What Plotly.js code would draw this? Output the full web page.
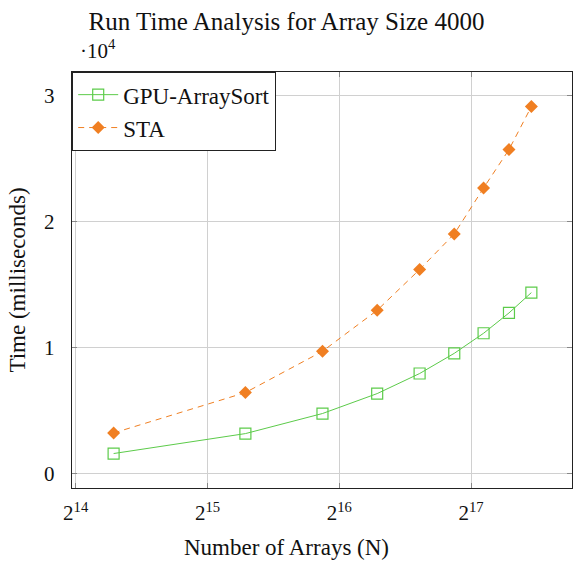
<!DOCTYPE html>
<html>
<head>
<meta charset="utf-8">
<script src="https://cdn.plot.ly/plotly-3.0.1.min.js"></script>
<style>html,body{margin:0;padding:0;background:#fff;}#chart{width:573px;height:562px;}</style>
</head>
<body>
<div id="chart"></div>
<script>
const numArrays = [20000, 40000, 60000, 80000, 100000, 120000, 140000, 160000, 180000];
const gpuArraySort = [1620, 3200, 4790, 6370, 7960, 9560, 11150, 12760, 14370];
const sta = [3250, 6450, 9720, 12970, 16200, 19020, 22660, 25700, 29110];
const xTickVals = [16384, 32768, 65536, 131072];
const xTickText = ['2<sup>14</sup>', '2<sup>15</sup>', '2<sup>16</sup>', '2<sup>17</sup>'];
const yTickVals = [0, 10000, 20000, 30000];
const yTickText = ['0', '1', '2', '3'];

const font = 'Liberation Serif, DejaVu Serif, serif';
const green = '#5ccb4a';
const orange = '#f07f22';

const traces = [
  {
    x: numArrays, y: gpuArraySort, name: 'GPU-ArraySort', type: 'scatter', mode: 'lines+markers',
    line: {color: green, width: 1},
    marker: {symbol: 'square-open', size: 11, color: green, line: {width: 1.2, color: green}}
  },
  {
    x: numArrays, y: sta, name: 'STA', type: 'scatter', mode: 'lines+markers',
    line: {color: orange, width: 1, dash: '6px,5px'},
    marker: {symbol: 'diamond', size: 10, color: orange}
  }
];

const layout = {
  width: 573, height: 562,
  margin: {l: 72, r: 1, t: 72, b: 74},
  paper_bgcolor: '#fff', plot_bgcolor: '#fff',
  font: {family: font, color: '#111', size: 20},
  title: {text: 'Run Time Analysis for Array Size 4000', x: 0.5, xref: 'container', y: 0.962, yanchor: 'middle', font: {family: font, size: 25, color: '#111'}},
  showlegend: true,
  legend: {x: 0, y: 1, xanchor: 'left', yanchor: 'top', bgcolor: '#fff', bordercolor: '#222', borderwidth: 1.2,
    font: {family: font, size: 23, color: '#111'}, tracegroupgap: 0, itemwidth: 40},
  xaxis: {
    type: 'log', range: [Math.log10(Math.pow(2, 13.972)), Math.log10(Math.pow(2, 17.766))],
    tickvals: xTickVals, ticktext: xTickText, tickfont: {family: font, size: 21, color: '#111'},
    showgrid: true, gridcolor: '#d0d0d0', gridwidth: 1,
    ticks: 'inside', ticklen: 5, tickcolor: '#888', mirror: 'ticks',
    showline: true, linecolor: '#222', linewidth: 1.2, zeroline: false,
    ticklabelstandoff: 6,
    title: {text: ''}
  },
  yaxis: {
    range: [-1110, 31850],
    tickvals: yTickVals, ticktext: yTickText, tickfont: {family: font, size: 21, color: '#111'},
    showgrid: true, gridcolor: '#d0d0d0', gridwidth: 1,
    ticks: 'inside', ticklen: 5, tickcolor: '#888', mirror: 'ticks',
    showline: true, linecolor: '#222', linewidth: 1.2, zeroline: false,
    ticklabelstandoff: 12,
    title: {text: 'Time (milliseconds)', font: {family: font, size: 23, color: '#111'}, standoff: 12}
  },
  annotations: [
    {text: '·10<sup>4</sup>', xref: 'paper', yref: 'paper', x: 0.012, y: 1.018, xanchor: 'left', yanchor: 'bottom', showarrow: false,
      font: {family: font, size: 21, color: '#111'}},
    {text: 'Number of Arrays (N)', xref: 'paper', yref: 'paper', x: 0.428, y: -0.142, xanchor: 'center', yanchor: 'middle', showarrow: false,
      font: {family: font, size: 23, color: '#111'}}
  ]
};

Plotly.newPlot('chart', traces, layout, {displayModeBar: false, staticPlot: true});
</script>
</body>
</html>
